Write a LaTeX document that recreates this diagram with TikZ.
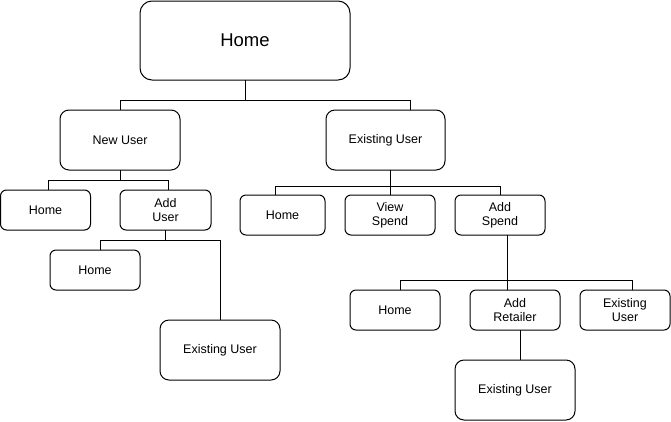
\documentclass[tikz,border=0pt]{standalone}
\usepackage{fontspec}
\setmainfont{Liberation Sans}
\begin{document}
\begin{tikzpicture}[x=1pt,y=-1pt,
  box/.style={draw=black,line width=1pt,rounded corners=6pt,inner sep=0pt,outer sep=0pt,
    minimum width=90pt,minimum height=40pt,align=center,font=\fontsize{12.5}{14}\selectfont},
  bigbox/.style={box,rounded corners=9pt,minimum width=120pt,minimum height=60pt},
  link/.style={draw=black,line width=1pt}]
\useasboundingbox (0,0) rectangle (671,421);
\node[box,rounded corners=12pt,minimum width=210pt,minimum height=79pt,font=\fontsize{18.5}{20}\selectfont] (home) at (245,40.5) {Home};
\node[bigbox] (nu) at (120,140) {New User};
\node[bigbox,minimum width=119pt] (eu) at (385.5,140) {Existing User};
\node[box] (h1) at (45.5,210) {Home};
\node[box,minimum width=91pt] (au) at (165.5,210) {Add\\User};
\node[box] (h2) at (95,270) {Home};
\node[bigbox] (eu2) at (220,350) {Existing User};
\node[box,minimum width=85pt] (h3) at (282.5,215) {Home};
\node[box] (vs) at (390,215) {View\\Spend};
\node[box] (as) at (500,215) {Add\\Spend};
\node[box] (h4) at (395,310) {Home};
\node[box] (ar) at (515,310) {Add\\Retailer};
\node[box] (eu3) at (625,310) {Existing\\User};
\node[bigbox] (eu4) at (515,390) {Existing User};

\draw[link] (home.south) -- ++(0,20) -| (nu.north);
\draw[link] (home.south) -- ++(0,20) -| ([xshift=24.5pt]eu.north);

\draw[link] (nu.south) -- ++(0,10) -| ([xshift=2.5pt]h1.north);
\draw[link] (nu.south) -- ++(0,10) -| ([xshift=2.5pt]au.north);

\draw[link] (au.south) -- ++(0,10) -| ([xshift=5pt]h2.north);
\draw[link] (au.south) -- ++(0,10) -| (eu2.north);

\draw[link] ([xshift=4.5pt]eu.south) -- ++(0,16) -| ([xshift=-7.5pt]h3.north);
\draw[link] ([xshift=4.5pt]eu.south) -- (vs.north);
\draw[link] ([xshift=4.5pt]eu.south) -- ++(0,16) -| (as.north);

\draw[link] ([xshift=7pt]as.south) -- ++(0,45) -| ([xshift=5pt]h4.north);
\draw[link] ([xshift=7pt]as.south) -- ([xshift=-8pt]ar.north);
\draw[link] ([xshift=7pt]as.south) -- ++(0,45) -| ([xshift=7pt]eu3.north);

\draw[link] ([xshift=5pt]ar.south) -- ([xshift=5pt]eu4.north);
\end{tikzpicture}
\end{document}
